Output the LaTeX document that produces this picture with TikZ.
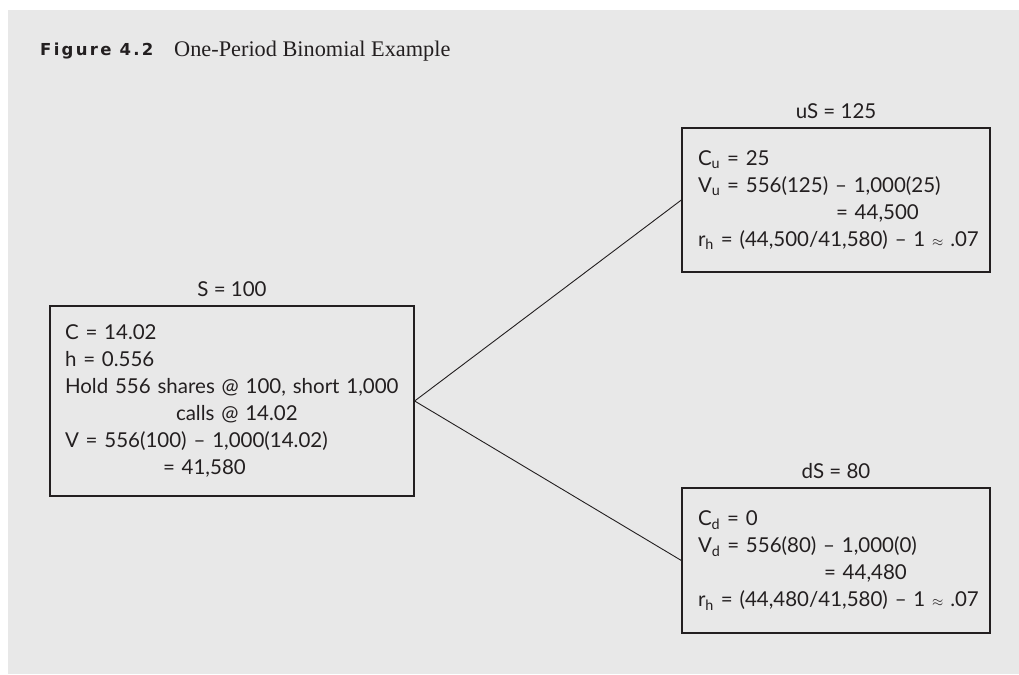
\documentclass[tikz,border=0pt]{standalone}
\usepackage{fontspec}
\setmainfont{Liberation Serif}
\newfontfamily\boxfont[Ligatures=TeX]{Lato}
\newfontfamily\figfont[LetterSpace=14]{DejaVu Sans}
\usetikzlibrary{positioning}

\definecolor{panelgrey}{HTML}{E8E8E8}
\definecolor{inkgrey}{HTML}{231F20}

% small approx sign for the return lines
\newcommand{\apx}{{\fontsize{15}{27}\selectfont$\approx$}}

\begin{document}
\begin{tikzpicture}[
    x=1pt, y=-1pt,
    font=\boxfont\fontsize{20.5}{27}\selectfont,
    text=inkgrey,
    node distance=8pt,
    valbox/.style={draw=inkgrey, line width=1.3pt, align=left, inner ysep=0pt, minimum height=#1},
    price/.style={inner sep=0pt}
]
% page and grey panel
\fill[white] (0,0) rectangle (1019,674);
\fill[panelgrey] (8,10) rectangle (1019,674);
\useasboundingbox (0,0) rectangle (1019,674);

% caption
\node[anchor=base west, inner sep=0pt, font=\figfont\bfseries\fontsize{16.5}{18}\selectfont] (figno) at (40,56) {Figure 4.2};
\node[anchor=base west, inner sep=0pt, font=\rmfamily\fontsize{22.3}{24}\selectfont] (figcap) at (174,56.5) {One-Period Binomial Example};

% today
\node[valbox=190pt, text width=334pt, inner xsep=15pt] (nowbox) at (232,401) {%
C = 14.02\\
h = 0.556\\
Hold 556 shares @ 100, short 1,000\\
\hspace*{111pt}calls @ 14.02\\
V = 556(100) -- 1,000(14.02)\\
\hspace*{98pt}= 41,580};
\node[price, above=of nowbox] (s0) {S = 100};

% up state
\node[valbox=144pt, text width=276pt, inner xsep=16pt] (upbox) at (836,200) {%
C\textsubscript{u} = 25\\
V\textsubscript{u} = 556(125) -- 1,000(25)\\
\hspace*{138pt}= 44,500\\
\makebox[276pt][l]{r\textsubscript{h} = (44,500/41,580) -- 1 \apx{} .07}};
\node[price, above=of upbox] (su) {uS = 125};

% down state
\node[valbox=145pt, text width=276pt, inner xsep=16pt] (downbox) at (836,560.5) {%
C\textsubscript{d} = 0\\
V\textsubscript{d} = 556(80) -- 1,000(0)\\
\hspace*{126pt}= 44,480\\
\makebox[276pt][l]{r\textsubscript{h} = (44,480/41,580) -- 1 \apx{} .07}};
\node[price, above=of downbox] (sd) {dS = 80};

\foreach \b in {upbox, downbox}
  \draw[draw=inkgrey, line width=0.9pt] (nowbox.east) -- (\b.west);
\end{tikzpicture}
\end{document}
